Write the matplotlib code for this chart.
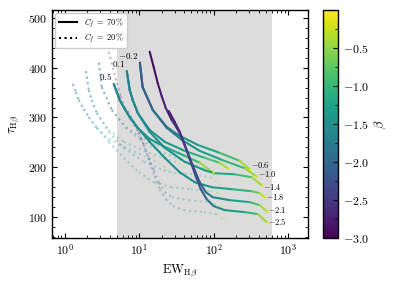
import numpy as np
import matplotlib
matplotlib.use("Agg")
import matplotlib.pyplot as plt
from matplotlib.collections import LineCollection
from matplotlib.colors import Normalize
from matplotlib.lines import Line2D
from matplotlib.ticker import FuncFormatter, MultipleLocator, LogLocator, NullFormatter

plt.rcParams["mathtext.fontset"] = "cm"
plt.rcParams["font.family"] = ["DejaVu Serif"]

# ---------------- data ----------------
# curve "0.5"
ew_05 = [4.54, 4.99, 5.47, 6.39, 7.45, 9.55, 13.8, 22.0, 40.8, 64.9, 97.0]
ewd_05 = [1.28, 1.41, 1.54, 1.80, 2.10, 2.69, 3.89, 6.20, 11.5, 18.3, 27.3]
tau_05 = [367, 351, 335, 317, 301, 279, 257, 241, 223, 209, 190]
beta_05 = [-1.65, -1.63, -1.6, -1.58, -1.55, -1.5, -1.42, -1.3, -1.1, -0.8, -0.1]

# curve "0.1"
ew_01 = [6.80, 7.45, 8.18, 9.55, 13.8, 22.0, 40.8, 75.7, 120, 154]
ewd_01 = [1.92, 2.10, 2.30, 2.69, 3.89, 6.20, 11.5, 21.3, 33.8, 43.4]
tau_01 = [393, 355, 335, 309, 275, 251, 233, 219, 209, 198]
beta_01 = [-1.7, -1.68, -1.65, -1.6, -1.5, -1.4, -1.25, -1.0, -0.7, -0.1]

# curve "-0.2" / "-0.6"
ew_m02 = [10.2, 11.1, 15.2, 23.4, 35.0, 61.0, 120, 223, 304]
ewd_m02 = [2.87, 3.13, 4.28, 6.59, 9.86, 17.2, 33.8, 62.8, 85.6]
tau_m02 = [410, 361, 315, 281, 263, 245, 229, 213, 196]
beta_m02 = [-2.2, -2.15, -2.0, -1.8, -1.6, -1.35, -1.1, -0.7, -0.1]

# curve "-1.0"
ew_m10 = [10.2, 11.1, 15.2, 23.4, 37.2, 64.9, 128, 261, 372]
ewd_m10 = [2.87, 3.13, 4.28, 6.59, 10.5, 18.3, 36.1, 73.5, 105]
tau_m10 = [410, 361, 315, 279, 255, 233, 215, 198, 182]
beta_m10 = [-2.2, -2.15, -2.0, -1.8, -1.6, -1.4, -1.2, -0.8, -0.1]

# curve "-1.4"
ew_m14 = [6.80, 7.45, 8.18, 9.55, 13.8, 22.0, 40.8, 75.7, 103, 191, 324, 441]
ewd_m14 = [1.92, 2.10, 2.30, 2.69, 3.89, 6.20, 11.5, 21.3, 29.0, 53.8, 91.3, 124]
tau_m14 = [393, 355, 335, 309, 271, 239, 211, 194, 188, 186, 180, 164]
beta_m14 = [-1.7, -1.68, -1.65, -1.6, -1.55, -1.5, -1.45, -1.4, -1.3, -1.1, -0.7, -0.1]

# curve "-1.8"
ew_m18 = [4.54, 4.99, 5.47, 6.39, 7.45, 9.55, 13.8, 22.0, 35.0, 55.6, 94.0, 175, 324, 414, 484]
ewd_m18 = [1.28, 1.41, 1.54, 1.80, 2.10, 2.69, 3.89, 6.20, 9.86, 15.7, 26.5, 49.3, 91.3, 117, 136]
tau_m18 = [367, 351, 335, 317, 301, 279, 251, 219, 190, 170, 160, 156, 152, 148, 140]
beta_m18 = [-1.65, -1.63, -1.6, -1.58, -1.55, -1.5, -1.5, -1.5, -1.55, -1.5, -1.4, -1.2, -0.9, -0.5, -0.1]

# curve "-2.1"
ew_m21 = [24.9, 30.0, 35.0, 40.8, 47.6, 55.6, 64.9, 78.1, 97.0, 164, 304, 414, 514]
ewd_m21 = [7.01, 8.45, 9.86, 11.5, 13.4, 15.7, 18.3, 22.0, 27.3, 46.2, 85.6, 117, 145]
tau_m21 = [313, 291, 271, 245, 219, 194, 170, 150, 140, 134, 130, 124, 112]
beta_m21 = [-2.75, -2.7, -2.6, -2.5, -2.4, -2.3, -2.2, -2.0, -1.7, -1.4, -1.1, -0.7, -0.1]

# curve "-2.5"
ew_m25 = [13.8, 15.7, 17.7, 20.0, 22.7, 27.3, 35.0, 42.1, 49.1, 57.3, 66.9, 80.5, 100, 140, 261, 390, 514]
ewd_m25 = [3.89, 4.42, 4.99, 5.63, 6.39, 7.69, 9.86, 11.9, 13.8, 16.1, 18.8, 22.7, 28.2, 39.4, 73.5, 110, 145]
tau_m25 = [432, 400, 369, 343, 319, 295, 269, 239, 211, 182, 156, 136, 122, 114, 110, 106, 90]
beta_m25 = [-2.95, -2.9, -2.85, -2.8, -2.75, -2.7, -2.6, -2.5, -2.4, -2.3, -2.2, -2.0, -1.7, -1.5, -1.2, -0.8, -0.1]

start_labels = ["0.5", "0.1", "-0.2", None, None, None, None, None]
end_labels = [None, None, "-0.6", "-1.0", "-1.4", "-1.8", "-2.1", "-2.5"]

shade_range = (5.0, 600.0)
beta_range = (-3.0, 0.0)
legend_labels = [r"$C_{f}\;=\;70\%$", r"$C_{f}\;=\;20\%$"]

# ---------------- figure ----------------
curves = [
    (ew_05, ewd_05, tau_05, beta_05),
    (ew_01, ewd_01, tau_01, beta_01),
    (ew_m02, ewd_m02, tau_m02, beta_m02),
    (ew_m10, ewd_m10, tau_m10, beta_m10),
    (ew_m14, ewd_m14, tau_m14, beta_m14),
    (ew_m18, ewd_m18, tau_m18, beta_m18),
    (ew_m21, ewd_m21, tau_m21, beta_m21),
    (ew_m25, ewd_m25, tau_m25, beta_m25),
]
# label offsets (points), layout only
end_offsets = [None, None, (1.0, 3.0), (1.5, 1.5), (1.0, -1.0), (1.0, 0.0), (1.0, 0.5), (1.0, 0.5)]

fig = plt.figure(figsize=(3.99, 2.83), dpi=100)
ax = fig.add_axes([0.130, 0.159, 0.642, 0.806])
cax = fig.add_axes([0.810, 0.159, 0.037, 0.806])

cmap = plt.get_cmap("viridis")
norm = Normalize(*beta_range)

ax.axvspan(*shade_range, color="#dcdcdc", zorder=0, lw=0)


def segs(x, y, b):
    pts = np.column_stack([x, y])
    s = np.stack([pts[:-1], pts[1:]], axis=1)
    b = np.asarray(b, float)
    c = 0.5 * (b[:-1] + b[1:])
    return s, c


for ew, ewd, tau, beta in curves:
    s, c = segs(ewd, tau, beta)
    lc = LineCollection(s, cmap=cmap, norm=norm, linewidths=1.5,
                        linestyles=":", alpha=0.3, zorder=2)
    lc.set_array(c)
    ax.add_collection(lc)

for ew, ewd, tau, beta in curves:
    s, c = segs(ew, tau, beta)
    lc = LineCollection(s, cmap=cmap, norm=norm, linewidths=1.5,
                        zorder=3, capstyle="round", joinstyle="round")
    lc.set_array(c)
    ax.add_collection(lc)
    ax.plot(ew[-1], tau[-1], "o", ms=1.8, mew=0,
            color=cmap(norm(beta[-1])), zorder=4)

for (ew, ewd, tau, beta), sl, el, eo in zip(curves, start_labels, end_labels, end_offsets):
    if sl is not None:
        ax.annotate(f"${sl}$", (ew[0], tau[0]), xytext=(-1.5, 1.5),
                    textcoords="offset points", ha="right", va="bottom",
                    fontsize=6.5, zorder=5)
    if el is not None:
        ax.annotate(f"${el}$", (ew[-1], tau[-1]), xytext=eo,
                    textcoords="offset points", ha="left", va="center",
                    fontsize=6.0, zorder=5)

ax.set_xscale("log")
ax.set_xlim(0.67, 1850)
ax.set_ylim(58, 516)

ax.xaxis.set_major_locator(LogLocator(base=10, numticks=10))
ax.xaxis.set_minor_locator(LogLocator(base=10, subs=np.arange(2, 10), numticks=20))
ax.xaxis.set_minor_formatter(NullFormatter())
ax.xaxis.set_major_formatter(FuncFormatter(lambda v, p: r"$10^{%d}$" % round(np.log10(v))))
ax.yaxis.set_major_locator(MultipleLocator(100))
ax.yaxis.set_minor_locator(MultipleLocator(20))
ax.yaxis.set_major_formatter(FuncFormatter(lambda v, p: r"$%d$" % v))

ax.tick_params(which="both", direction="in", top=True, right=True, labelsize=8.5)
ax.tick_params(which="major", length=3.5, width=0.8)
ax.tick_params(which="minor", length=2, width=0.6)
for sp in ax.spines.values():
    sp.set_linewidth(1.0)

ax.set_xlabel(r"$\mathrm{EW}_{\mathrm{H}\beta}$", fontsize=9, labelpad=3)
ax.set_ylabel(r"$\tau_{\mathrm{H}\beta}$", fontsize=9, labelpad=5)

handles = [Line2D([], [], color="k", lw=1.5, ls="-"),
           Line2D([], [], color="k", lw=1.5, ls=":")]
ax.legend(handles, legend_labels, loc="upper left", fontsize=6,
          handlelength=2.2, borderaxespad=0.4, framealpha=1,
          edgecolor="#cccccc", borderpad=0.4, labelspacing=0.3)

sm = plt.cm.ScalarMappable(cmap=cmap, norm=norm)
cb = fig.colorbar(sm, cax=cax)
cb.set_ticks([-3.0, -2.5, -2.0, -1.5, -1.0, -0.5])
cb.ax.yaxis.set_major_formatter(FuncFormatter(lambda v, p: r"$%.1f$" % v))
cb.ax.yaxis.set_minor_locator(MultipleLocator(0.25))
cb.ax.tick_params(which="both", direction="in", labelsize=8.5)
cb.ax.tick_params(which="major", length=3.5, width=0.8)
cb.ax.tick_params(which="minor", length=2, width=0.6)
cb.outline.set_linewidth(1.0)
cb.set_label(r"$\beta$", fontsize=9, labelpad=3)

fig.savefig("out.png", dpi=100)
